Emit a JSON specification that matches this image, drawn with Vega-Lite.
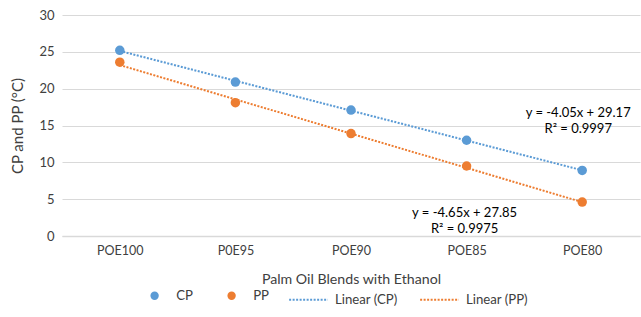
{
  "$schema": "https://vega.github.io/schema/vega-lite/v6.json",
  "width": 578,
  "height": 221,
  "autosize": "none",
  "padding": {"left": 62, "top": 15, "right": 1, "bottom": 81},
  "background": "white",
  "config": {
    "view": {"stroke": null},
    "font": "Lato",
    "axis": {"labelFont": "Lato", "titleFont": "Lato", "labelColor": "#404040", "titleColor": "#404040", "titleFontWeight": "normal"},
    "axisY": {"titleFontSize": 15, "titlePadding": 13, "labelFontSize": 13, "labelPadding": 8, "values": [0, 5, 10, 15, 20, 25, 30], "ticks": false, "domain": false, "gridColor": "#d9d9d9", "gridWidth": 1, "labelOverlap": false},
    "legend": {"labelFont": "Lato", "labelColor": "#404040", "labelFontSize": 13.2, "padding": 0}
  },
  "datasets": {
    "pts": [
      {"blend": "POE100", "series": "CP", "trend": "Linear (CP)", "value": 25.2, "fit": 25.12},
      {"blend": "P0E95", "series": "CP", "trend": "Linear (CP)", "value": 20.9, "fit": 21.07},
      {"blend": "POE90", "series": "CP", "trend": "Linear (CP)", "value": 17.1, "fit": 17.02},
      {"blend": "POE85", "series": "CP", "trend": "Linear (CP)", "value": 13.0, "fit": 12.97},
      {"blend": "POE80", "series": "CP", "trend": "Linear (CP)", "value": 8.9, "fit": 8.92},
      {"blend": "POE100", "series": "PP", "trend": "Linear (PP)", "value": 23.6, "fit": 23.2},
      {"blend": "P0E95", "series": "PP", "trend": "Linear (PP)", "value": 18.1, "fit": 18.55},
      {"blend": "POE90", "series": "PP", "trend": "Linear (PP)", "value": 13.9, "fit": 13.9},
      {"blend": "POE85", "series": "PP", "trend": "Linear (PP)", "value": 9.5, "fit": 9.25},
      {"blend": "POE80", "series": "PP", "trend": "Linear (PP)", "value": 4.6, "fit": 4.6}
    ],
    "labelsCP": [
      {"blend": "POE80", "y": 16.7, "text": "y = -4.05x + 29.17"},
      {"blend": "POE80", "y": 14.5, "text": "R² = 0.9997"}
    ],
    "labelsPP": [
      {"blend": "POE85", "y": 3.1, "text": "y = -4.65x + 27.85"},
      {"blend": "POE85", "y": 0.95, "text": "R² = 0.9975"}
    ]
  },
  "encoding": {
    "x": {
      "field": "blend", "type": "nominal",
      "scale": {"domain": ["POE100", "P0E95", "POE90", "POE85", "POE80"], "paddingInner": 0, "paddingOuter": 0},
      "axis": {"title": "Palm Oil Blends with Ethanol", "titleFontSize": 14.2, "titlePadding": 16, "labelFontSize": 12.5, "labelAngle": 0, "labelPadding": 8, "ticks": false, "domainColor": "#d9d9d9", "domainWidth": 1.5, "grid": false}
    }
  },
  "layer": [
    {
      "data": {"name": "pts"},
      "mark": {"type": "line", "strokeWidth": 2, "strokeDash": [2, 1.5], "strokeCap": "butt"},
      "encoding": {
        "y": {"field": "fit", "type": "quantitative", "scale": {"domain": [0, 30], "nice": false}, "axis": {"title": "CP and PP (°C)"}},
        "stroke": {"field": "trend", "type": "nominal",
          "scale": {"domain": ["Linear (CP)", "Linear (PP)"], "range": ["#5B9BD5", "#ED7D31"]},
          "legend": {"title": null, "orient": "none", "direction": "horizontal", "legendX": 226, "legendY": 264, "symbolType": "stroke", "symbolSize": 1500, "symbolStrokeWidth": 2, "symbolDash": [2, 1.5], "labelOffset": 6, "columnPadding": 18}}
      }
    },
    {
      "data": {"name": "pts"},
      "mark": {"type": "point", "filled": true, "size": 90, "opacity": 1},
      "encoding": {
        "y": {"field": "value", "type": "quantitative", "axis": {"title": "CP and PP (°C)"}},
        "color": {"field": "series", "type": "nominal",
          "scale": {"domain": ["CP", "PP"], "range": ["#5B9BD5", "#ED7D31"]},
          "legend": {"title": null, "orient": "none", "direction": "horizontal", "legendX": 86, "legendY": 274, "symbolType": "circle", "symbolSize": 70, "labelOffset": 15, "columnPadding": 32, "symbolOpacity": 1}}
      }
    },
    {
      "data": {"name": "labelsCP"},
      "mark": {"type": "text", "fontSize": 13, "color": "#000000", "dx": -4, "font": "Lato"},
      "encoding": {
        "y": {"field": "y", "type": "quantitative", "axis": {"title": "CP and PP (°C)"}},
        "text": {"field": "text"}
      }
    },
    {
      "data": {"name": "labelsPP"},
      "mark": {"type": "text", "fontSize": 13, "color": "#000000", "dx": -2, "font": "Lato"},
      "encoding": {
        "y": {"field": "y", "type": "quantitative", "axis": {"title": "CP and PP (°C)"}},
        "text": {"field": "text"}
      }
    }
  ]
}
